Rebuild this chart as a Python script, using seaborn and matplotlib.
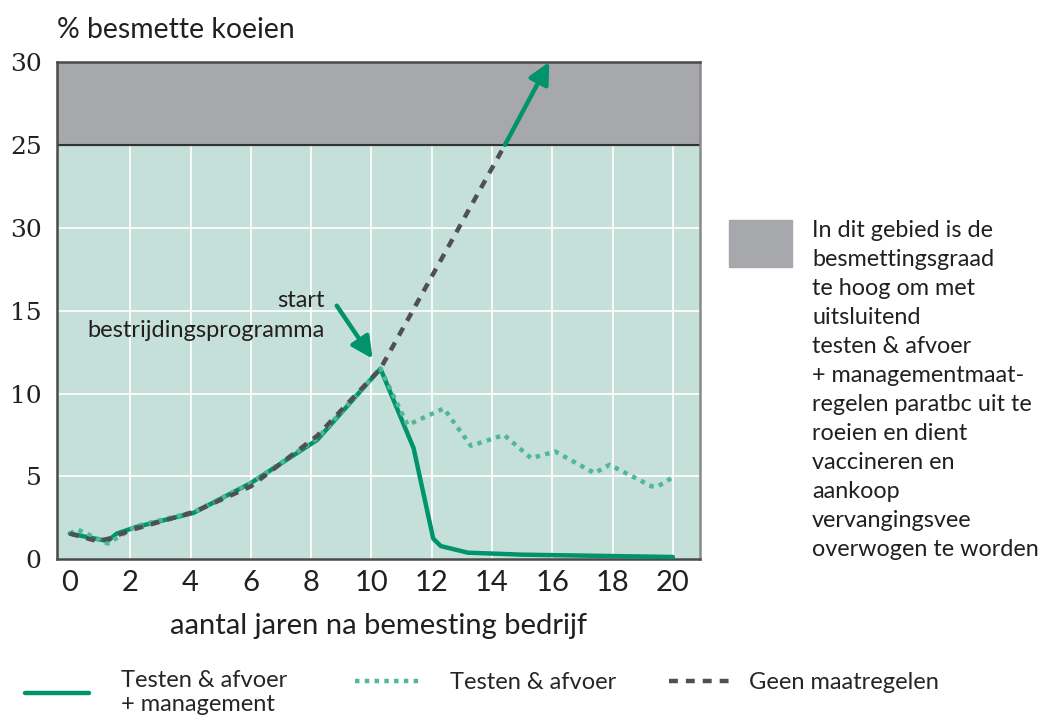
import numpy as np
import pandas as pd
import matplotlib
matplotlib.use("Agg")
import matplotlib.pyplot as plt
from matplotlib.lines import Line2D
from matplotlib.patches import Rectangle
import seaborn as sns

# --- data ---
x_beheer = [0, 1.25, 1.55, 2.2, 4.1, 6.0, 8.2, 10.3, 11.4, 12.05, 12.3, 13.2, 15.0, 20]
y_beheer = [1.55, 1.1, 1.55, 1.95, 2.8, 4.6, 7.2, 11.5, 6.7, 1.25, 0.8, 0.4, 0.28, 0.14]

x_testen = [0, 0.25, 1.25, 1.7, 2.2, 4.1, 6.0, 8.2, 10.3, 11.2, 12.4, 13.3, 14.4,
            15.3, 16.1, 17.4, 17.9, 19.3, 19.5, 20]
y_testen = [1.55, 1.8, 0.95, 1.45, 2.0, 2.85, 4.6, 7.3, 11.5, 8.1, 9.1, 6.85, 7.5,
            6.1, 6.5, 5.2, 5.7, 4.4, 4.4, 4.95]

x_geen = [0, 0.9, 1.3, 2.0, 4.1, 6.0, 8.2, 10.3, 14.43]
y_geen = [1.55, 1.1, 1.25, 1.75, 2.85, 4.4, 7.45, 11.5, 25]
pijl_geen = [(14.43, 25), (15.9, 30)]       # verlengde van "geen maatregelen"
pijl_start = [(8.85, 15.3), (10.04, 12.1)]  # start bestrijdingsprogramma

x_ticks = list(range(0, 21, 2))
y_ticks = [0, 5, 10, 15, 20, 25, 30]
y_ticklabels = ["0", "5", "10", "15", "30", "25", "30"]

labels = ["Testen & afvoer\n+ management", "Testen & afvoer", "Geen maatregelen"]
uitleg = ("In dit gebied is de\nbesmettingsgraad\nte hoog om met\nuitsluitend\n"
          "testen & afvoer\n+ managementmaat-\nregelen paratbc uit te\n"
          "roeien en dient\nvaccineren en\naankoop\nvervangingsvee\n"
          "overwogen te worden")

groen = "#00936c"
lichtgroen = "#52b799"
donkergrijs = "#505052"
achtergrond = "#c5e0d9"
grijs = "#a7a8ab"
tekst = "#231f20"

sns.set_theme(style="white")
plt.rcParams["font.family"] = ["Lato", "DejaVu Sans"]

fig = plt.figure(figsize=(10.44, 7.19), dpi=100)
ax = fig.add_axes([0.0546, 0.2221, 0.6159, 0.6917])
ax.set_facecolor(achtergrond)

df1 = pd.DataFrame({"x": x_beheer, "y": y_beheer})
df2 = pd.DataFrame({"x": x_testen, "y": y_testen})
df3 = pd.DataFrame({"x": x_geen, "y": y_geen})

sns.lineplot(data=df1, x="x", y="y", ax=ax, color=groen, lw=3.2,
             estimator=None, sort=False, zorder=3)
sns.lineplot(data=df2, x="x", y="y", ax=ax, color=lichtgroen, lw=3.2,
             linestyle=(0, (1, 1.2)), estimator=None, sort=False, zorder=4)
sns.lineplot(data=df3, x="x", y="y", ax=ax, color=donkergrijs, lw=3.2,
             linestyle=(0, (2, 1.8)), estimator=None, sort=False, zorder=5)

ax.annotate("", xy=pijl_geen[1], xytext=pijl_geen[0],
            arrowprops=dict(arrowstyle="-|>", color=groen, lw=3.2,
                            mutation_scale=32, shrinkA=0, shrinkB=0),
            annotation_clip=False, zorder=6)
ax.annotate("", xy=pijl_start[1], xytext=pijl_start[0],
            arrowprops=dict(arrowstyle="-|>", color=groen, lw=3.2,
                            mutation_scale=32, shrinkA=0, shrinkB=0),
            zorder=6)
ax.text(8.46, 15.6, "start", ha="right", va="center", fontsize=17, color=tekst)
ax.text(8.46, 13.8, "bestrijdingsprogramma", ha="right", va="center",
        fontsize=17, color=tekst)

# rasterlijnen alleen in het groene deel
for xv in x_ticks[1:]:
    ax.axvline(xv, color="white", lw=1.2, zorder=0.5)
for yv in y_ticks[1:5]:
    ax.axhline(yv, color="white", lw=1.2, zorder=0.5)

# grijze zone
ax.axhspan(25, 30, color=grijs, zorder=1)
ax.axhline(25, color="#333333", lw=1.5, zorder=1.5)

ax.set_xlim(-0.43, 20.9)
ax.set_ylim(0, 30)
ax.set_xticks(x_ticks)
ax.set_xticklabels([str(v) for v in x_ticks], fontsize=21, color=tekst)
ax.set_yticks(y_ticks)
ax.set_yticklabels(y_ticklabels, family=["DejaVu Serif"], fontsize=18, color=tekst)
ax.tick_params(axis="both", which="both", length=0)
ax.tick_params(axis="y", pad=11)
ax.tick_params(axis="x", pad=8)
ax.grid(False)
ax.set_xlabel("aantal jaren na bemesting bedrijf", fontsize=21,
              color=tekst, labelpad=12)
ax.set_ylabel("")
fig.text(0.0546, 0.958, "% besmette koeien", fontsize=20.4, color=tekst,
         ha="left", va="center")

for side in ["left", "bottom", "top"]:
    ax.spines[side].set_color("#4a4a4a")
    ax.spines[side].set_linewidth(1.8)
ax.spines["right"].set_color("#8a8a8a")
ax.spines["right"].set_linewidth(1.8)

# uitleg grijze zone
fig.patches.append(Rectangle((729 / 1044, 1 - 267 / 719), 63 / 1044, 47 / 719,
                             transform=fig.transFigure, color=grijs))
fig.text(812 / 1044, 1 - 220 / 719, uitleg, ha="left", va="top", fontsize=16.8,
         linespacing=1.47, color=tekst)

# legenda
handles = [
    Line2D([], [], color=groen, lw=3.2),
    Line2D([], [], color=lichtgroen, lw=3.2, linestyle=(0, (1, 1.2))),
    Line2D([], [], color=donkergrijs, lw=3.2, linestyle=(0, (2, 1.8))),
]
plekken = [(0.0035, 0.037), (0.3195, 0.051), (0.6205, 0.051)]
tussen = [1.35, 1.35, 0.7]
for h, lab, plek, pad in zip(handles, labels, plekken, tussen):
    fig.legend([h], [lab], loc="center left", bbox_to_anchor=plek, frameon=False,
               handlelength=2.7, handletextpad=pad, prop={"size": 17})

fig.savefig("out.png", dpi=100)
